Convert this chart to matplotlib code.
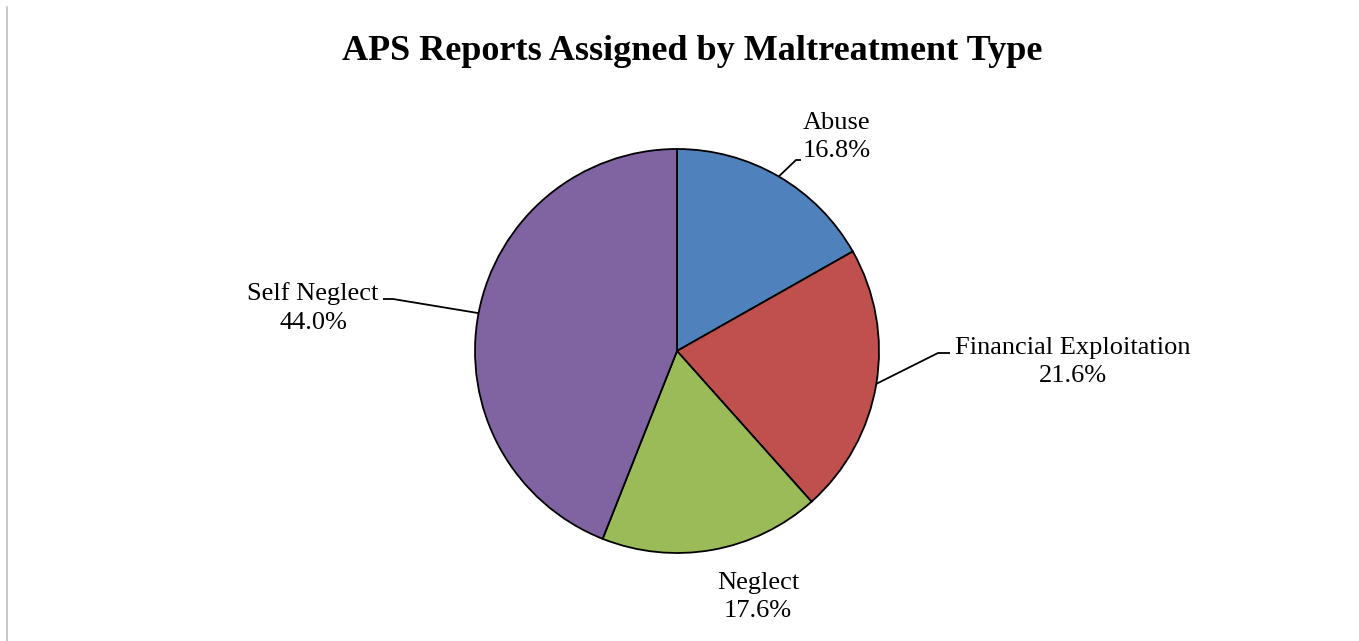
import numpy as np
import matplotlib.pyplot as plt
from matplotlib.lines import Line2D

# chart data
categories = ['Abuse', 'Financial Exploitation', 'Neglect', 'Self Neglect']
shares = [16.8, 21.6, 17.6, 44.0]
colors = ['#4F81BD', '#C0504D', '#9BBB59', '#8064A2']

plt.rcParams['font.family'] = ['Liberation Serif', 'DejaVu Serif']

W, H = 1359, 641
fig = plt.figure(figsize=(W / 100, H / 100), dpi=100)
ax = fig.add_axes([0, 0, 1, 1])

# thin grey frame edge on the left
fig.add_artist(Line2D([7 / W, 7 / W], [0, 1 - 7 / H], color='#BFBFBF', lw=1.2))

cx, cy, r = 677, H - 351, 202
wedges, _ = ax.pie(shares, colors=colors, startangle=90, counterclock=False,
                   center=(cx, cy), radius=r, frame=True,
                   wedgeprops=dict(edgecolor='black', linewidth=1.3))
ax.set_xlim(0, W)
ax.set_ylim(0, H)
ax.axis('off')

fig.text(692 / W, 1 - 52 / H, 'APS Reports Assigned by Maltreatment Type',
         ha='center', va='center', fontsize=26, fontweight='bold')

# label positions (pixel, top-origin) and leader line elbows
label_pos = {
    'Abuse': (837, 137),
    'Financial Exploitation': (1073, 362),
    'Neglect': (758, 597),
    'Self Neglect': (313, 308),
}
leaders = {
    'Abuse': [(796, 160), (801, 160)],
    'Financial Exploitation': [(938, 353), (950, 353)],
    'Self Neglect': [(393, 299), (383, 299)],
}

for w, name, val in zip(wedges, categories, shares):
    tx, ty = label_pos[name]
    ax.text(tx, H - ty, f'{name}\n{val:.1f}%', ha='center', va='center',
            fontsize=19, linespacing=1.4)
    if name in leaders:
        ang = np.deg2rad((w.theta1 + w.theta2) / 2)
        ex, ey = cx + r * np.cos(ang), cy + r * np.sin(ang)
        pts = [(ex, ey)] + [(x, H - y) for x, y in leaders[name]]
        xs, ys = zip(*pts)
        ax.plot(xs, ys, color='black', lw=1.3, solid_capstyle='butt')

fig.savefig('out.png', dpi=100)
